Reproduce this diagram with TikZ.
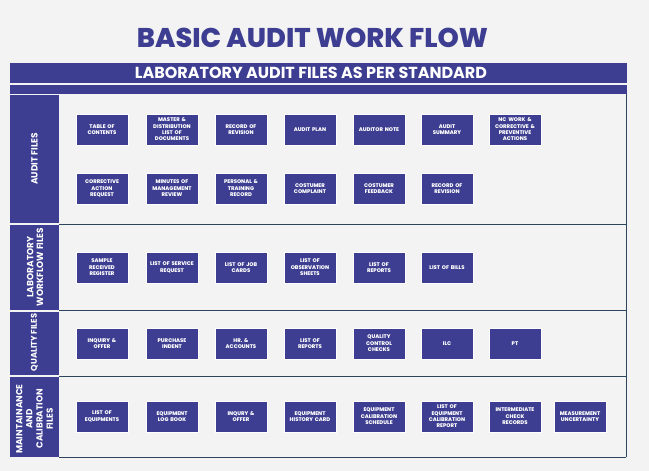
\documentclass[tikz,border=0pt]{standalone}
\usepackage{fontspec}
\setmainfont{Poppins}
\newfontfamily\heavyfont{Poppins ExtraBold}
\usepackage{graphicx}
\definecolor{navy}{RGB}{61,62,145}
\definecolor{bgcol}{RGB}{243,243,243}
\definecolor{rulecol}{RGB}{44,68,92}
\tikzset{
  filebox/.style={fill=navy, draw=white, line width=0.6pt, minimum width=52pt, minimum height=31pt,
    inner sep=0pt, text=white, text width=51pt, font=\heavyfont\fontsize{5.3}{6.4}\selectfont, align=center},
  sidecell/.style={fill=navy, draw=none, inner sep=0pt, minimum width=49pt},
  sidelabel/.style={text=white, font=\bfseries\fontsize{9}{9.6}\selectfont, align=center, rotate=90, inner sep=0pt},
  barnode/.style={fill=navy, draw=none, inner sep=0pt, minimum width=617pt, text=white},
  tablerule/.style={draw=rulecol, line width=0.9pt},
}
\begin{document}
\begin{tikzpicture}[x=1pt,y=-1pt]
\fill[bgcol] (0,0) rectangle (649,471);
\useasboundingbox (0,0) rectangle (649,471);

% title
\node[text=navy, inner sep=0pt] (title) at (312.5,37.5) {\resizebox{351pt}{!}{\heavyfont BASIC AUDIT WORK FLOW}};

% header bars
\node[barnode, minimum height=20pt] (header) at (318.5,73) {};
\node[text=white, inner sep=0pt] (headertext) at (311,73) {\resizebox{352pt}{!}{\bfseries LABORATORY AUDIT FILES AS PER STANDARD}};
\node[barnode, minimum height=9.5pt] (subbar) at (318.5,89.25) {};

% side cells
\node[sidecell, minimum height=128pt] (cellA) at (34.5,159) {};
\node[sidecell, minimum height=85pt] (cellB) at (34.5,267.5) {};
\node[sidecell, minimum height=63pt] (cellC) at (34.5,343.5) {};
\node[sidecell, minimum height=80pt] (cellD) at (34.5,417) {};
\node[sidelabel] (labA) at (34.5,159) {AUDIT FILES};
\node[sidelabel, font=\bfseries\fontsize{9}{9.8}\selectfont] (labB) at (35,267) {LABORATORY\\WORKFLOW FILES};
\node[sidelabel, font=\bfseries\fontsize{8.3}{9}\selectfont] (labC) at (34.5,342.5) {QUALITY FILES};
\node[sidelabel, font=\bfseries\fontsize{8.8}{10.2}\selectfont] (labD) at (34.5,419) {MAINTAINANCE\\AND\\CALIBRATION\\FILES};

% table rules
\draw[tablerule] (59,224) -- (626,224);
\draw[tablerule] (59,310.5) -- (626,310.5);
\draw[tablerule] (59,376.5) -- (626,376.5);
\draw[tablerule] (59,457) -- (626,457);
\draw[tablerule] (626,94) -- (626,457);

% audit files row 1
\node[filebox] (a1) at (102,129.5) {TABLE OF\\CONTENTS};
\node[filebox] (a2) at (172,129.5) {MASTER \&\\DISTRIBUTION\\LIST OF\\DOCUMENTS};
\node[filebox] (a3) at (241,129.5) {RECORD OF\\REVISION};
\node[filebox] (a4) at (310,129.5) {AUDIT PLAN};
\node[filebox] (a5) at (379,129.5) {AUDITOR NOTE};
\node[filebox] (a6) at (447,129.5) {AUDIT\\SUMMARY};
\node[filebox] (a7) at (515,129.5) {NC WORK \&\\CORRECTIVE \&\\PREVENTIVE\\ACTIONS};
% audit files row 2
\node[filebox] (b1) at (102,188.5) {CORRECTIVE\\ACTION\\REQUEST};
\node[filebox] (b2) at (172,188.5) {MINUTES OF\\MANAGEMENT\\REVIEW};
\node[filebox] (b3) at (241,188.5) {PERSONAL \&\\TRAINING\\RECORD};
\node[filebox] (b4) at (310,188.5) {COSTUMER\\COMPLAINT};
\node[filebox] (b5) at (379,188.5) {COSTUMER\\FEEDBACK};
\node[filebox] (b6) at (447,188.5) {RECORD OF\\REVISION};

% laboratory workflow files
\node[filebox] (l1) at (102,267.5) {SAMPLE\\RECEIVED\\REGISTER};
\node[filebox] (l2) at (172,267.5) {LIST OF SERVICE\\REQUEST};
\node[filebox] (l3) at (241,267.5) {LIST OF JOB\\CARDS};
\node[filebox] (l4) at (310,267.5) {LIST OF\\OBSERVATION\\SHEETS};
\node[filebox] (l5) at (379,267.5) {LIST OF\\REPORTS};
\node[filebox] (l6) at (447,267.5) {LIST OF BILLS};

% quality files
\node[filebox] (q1) at (102,343.5) {INQUIRY \&\\OFFER};
\node[filebox] (q2) at (172,343.5) {PURCHASE\\INDENT};
\node[filebox] (q3) at (241,343.5) {HR. \&\\ACCOUNTS};
\node[filebox] (q4) at (310,343.5) {LIST OF\\REPORTS};
\node[filebox] (q5) at (379,343.5) {QUALITY\\CONTROL\\CHECKS};
\node[filebox] (q6) at (447,343.5) {ILC};
\node[filebox] (q7) at (515,343.5) {PT};

% maintainance and calibration files
\node[filebox] (m1) at (102,416.5) {LIST OF\\EQUIPMENTS};
\node[filebox] (m2) at (172,416.5) {EQUIPMENT\\LOG BOOK};
\node[filebox] (m3) at (241,416.5) {INQURY \&\\OFFER};
\node[filebox] (m4) at (310,416.5) {EQUIPMENT\\HISTORY CARD};
\node[filebox] (m5) at (379,416.5) {EQUIPMENT\\CALIBRATION\\SCHEDULE};
\node[filebox] (m6) at (447,416.5) {LIST OF\\EQUIPMENT\\CALIBRATION\\REPORT};
\node[filebox] (m7) at (515,416.5) {INTERMEDIATE\\CHECK\\RECORDS};
\node[filebox] (m8) at (580,416.5) {MEASUREMENT\\UNCERTAINTY};
\end{tikzpicture}
\end{document}
